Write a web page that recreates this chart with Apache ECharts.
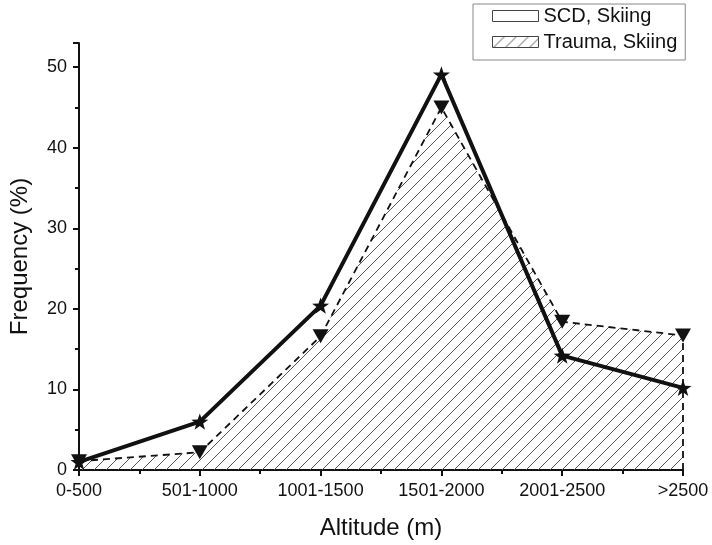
<!DOCTYPE html>
<html>
<head>
<meta charset="utf-8">
<script src="https://cdn.jsdelivr.net/npm/echarts@6/dist/echarts.min.js"></script>
<style>
  html, body { margin: 0; padding: 0; background: #fff; }
  #chart { width: 712px; height: 545px; }
</style>
</head>
<body>
<div id="chart"></div>
<script>
// altitude bands on the x axis
var categories = ['0-500', '501-1000', '1001-1500', '1501-2000', '2001-2500', '>2500'];
// frequency (%) per band
var scdSkiing = [1.0, 6.0, 20.4, 49.1, 14.2, 10.2];
var traumaSkiing = [1.1, 2.2, 16.6, 45.0, 18.4, 16.7];
var yTicks = [0, 10, 20, 30, 40, 50];

// hatch tile for the trauma area
function makeHatch(size) {
	var c = document.createElement('canvas');
	c.width = size; c.height = size;
	var g = c.getContext('2d');
	g.strokeStyle = '#555';
	g.lineWidth = 1;
	g.beginPath();
	g.moveTo(0, size); g.lineTo(size, 0);
	g.moveTo(-2, 2); g.lineTo(2, -2);
	g.moveTo(size - 2, size + 2); g.lineTo(size + 2, size - 2);
	g.stroke();
	return c;
}
var hatch = { image: makeHatch(12), repeat: 'repeat' };

var star = 'path://M0,-10 L2.35,-3.24 L9.51,-3.09 L3.8,1.24 L5.88,8.09 L0,4 L-5.88,8.09 L-3.8,1.24 L-9.51,-3.09 L-2.35,-3.24Z';

function pairs(vals) {
	return vals.map(function (v, i) { return [i, v]; });
}

var last = categories.length - 1;
var font = 'Liberation Sans, Arial, sans-serif';
var dash = [7, 5];

var myChart = echarts.init(document.getElementById('chart'));
myChart.setOption({
	animation: false,
	textStyle: { fontFamily: font },
	grid: { left: 76, right: 29, top: 43, bottom: 73 },
	legend: {
		left: 473,
		top: 4,
		orient: 'vertical',
		padding: [2, 8, 8, 19],
		itemGap: 6,
		itemWidth: 46,
		itemHeight: 11,
		borderColor: '#888',
		borderWidth: 1,
		textStyle: { fontSize: 20, color: '#111' },
		data: [
			{ name: 'SCD, Skiing', icon: 'rect', itemStyle: { color: '#fff', borderColor: '#444', borderWidth: 1 } },
			{ name: 'Trauma, Skiing', icon: 'rect', itemStyle: { color: hatch, borderColor: '#444', borderWidth: 1 } }
		]
	},
	xAxis: {
		type: 'value',
		min: 0,
		max: last,
		interval: 1,
		name: 'Altitude (m)',
		nameLocation: 'middle',
		nameGap: 46,
		nameTextStyle: { fontSize: 24, color: '#111' },
		axisLine: { lineStyle: { color: '#111', width: 2 } },
		axisTick: { inside: false, length: 6, lineStyle: { color: '#111', width: 2 } },
		minorTick: { show: true, splitNumber: 2, length: 4, lineStyle: { color: '#111', width: 2 } },
		splitLine: { show: false },
		axisLabel: {
			fontSize: 18, color: '#111', margin: 12,
			formatter: function (v) { return categories[v] || ''; }
		}
	},
	yAxis: {
		type: 'value',
		min: 0,
		max: 53,
		interval: 10,
		name: 'Frequency (%)',
		nameLocation: 'middle',
		nameGap: 47,
		nameTextStyle: { fontSize: 24, color: '#111' },
		axisLine: { show: true, lineStyle: { color: '#111', width: 2 } },
		axisTick: { show: true, inside: false, length: 6, lineStyle: { color: '#111', width: 2 } },
		minorTick: { show: true, splitNumber: 2, length: 4, lineStyle: { color: '#111', width: 2 } },
		splitLine: { show: false },
		axisLabel: {
			fontSize: 18, color: '#111', margin: 12,
			formatter: function (v) { return yTicks.indexOf(v) >= 0 ? String(v) : ''; }
		}
	},
	series: [
		{
			name: 'Trauma, Skiing',
			type: 'line',
			data: pairs(traumaSkiing),
			symbol: 'triangle',
			symbolRotate: 180,
			symbolSize: [16, 14],
			itemStyle: { color: '#111' },
			lineStyle: { color: '#111', width: 1.8, type: dash },
			areaStyle: { color: hatch, opacity: 1 },
			markLine: {
				silent: true,
				symbol: 'none',
				label: { show: false },
				lineStyle: { color: '#111', width: 1.8, type: dash },
				data: [[{ coord: [last, 0] }, { coord: [last, traumaSkiing[last]] }]]
			},
			z: 2
		},
		{
			name: 'SCD, Skiing',
			type: 'line',
			data: pairs(scdSkiing),
			symbol: star,
			symbolSize: 17,
			symbolKeepAspect: true,
			itemStyle: { color: '#111' },
			lineStyle: { color: '#111', width: 4 },
			z: 3
		}
	]
});
</script>
</body>
</html>
